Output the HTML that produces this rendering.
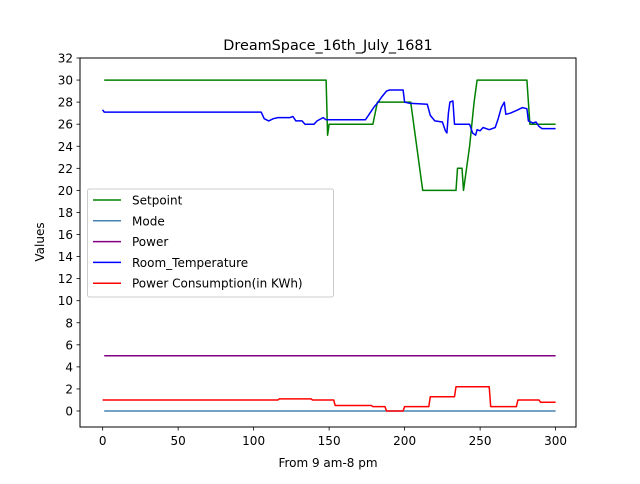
<!DOCTYPE html>
<html><head><meta charset="utf-8"><style>
body{margin:0;background:#fff;font-family:"DejaVu Sans","Liberation Sans",sans-serif}
svg text{font-family:"DejaVu Sans","Liberation Sans",sans-serif;fill:#000}
</style></head><body>
<svg id="chart" width="640" height="480" viewBox="0 0 640 480">
<rect width="640" height="480" fill="#fff"/>
<text x="328" y="50" font-size="14.4" text-anchor="middle">DreamSpace_16th_July_1681</text>
<g id="plot"></g>
<rect x="80" y="58" width="496" height="369" fill="none" stroke="#000" stroke-width="1"/>
<g id="yt"></g><g id="xt"></g>
<text x="328" y="467" font-size="12" text-anchor="middle">From 9 am-8 pm</text>
<text transform="translate(44,242) rotate(-90)" font-size="12" text-anchor="middle">Values</text>
<g id="legend"></g>
</svg>
<script>
const xTicks=[0,50,100,150,200,250,300];
const yTicks=[0,2,4,6,8,10,12,14,16,18,20,22,24,26,28,30,32];
const seriesNames=["Setpoint","Mode","Power","Room_Temperature","Power Consumption(in KWh)"];
const seriesColors=["#008000","#4682b4","#800080","#0000ff","#ff0000"];
// [x, value] pairs
const setpoint=[[1,30],[148,30],[149,25],[150,26],[179,26],[182,28],[204,28],[206,26],[212,20],[234,20],[235,22],[238,22],[239,20],[243,24],[246,28],[248,30],[281,30],[283,26],[300,26]];
const mode=[[1,0],[300,0]];
const power=[[1,5],[300,5]];
const roomTemp=[[0,27.3],[1,27.1],[105,27.1],[107,26.5],[110,26.3],[113,26.5],[116,26.6],[124,26.6],[126,26.7],[128,26.3],[132,26.3],[134,26.0],[137,26.0],[140,26.0],[142,26.3],[146,26.6],[148,26.4],[174,26.4],[177,27.0],[180,27.6],[182,27.9],[185,28.5],[188,29.0],[190,29.1],[199,29.1],[200,28.0],[203,27.9],[215,27.8],[217,26.8],[220,26.3],[225,26.2],[227,25.4],[228,25.2],[229,27.0],[230,28.0],[232,28.1],[233,26.0],[243,26.0],[245,25.2],[247,25.0],[248,25.5],[250,25.4],[252,25.7],[256,25.5],[260,25.7],[262,26.5],[264,27.5],[266,28.0],[267,26.9],[270,27.0],[275,27.3],[278,27.5],[281,27.4],[282,26.3],[285,26.1],[287,26.2],[289,25.8],[291,25.6],[300,25.6]];
const consumption=[[0,1.0],[116,1.0],[117,1.1],[138,1.1],[139,1.0],[153,1.0],[154,0.5],[178,0.5],[179,0.4],[187,0.4],[188,0.0],[199,0.0],[200,0.4],[216,0.4],[217,1.3],[233,1.3],[234,2.2],[256,2.2],[257,0.4],[274,0.4],[275,1.0],[289,1.0],[290,0.8],[300,0.8]];
const allSeries=[setpoint,mode,power,roomTemp,consumption];
const X0=80,X1=576,Y0=427,Y1=58,xmin=-15,xmax=313.5,ymin=-1.45,ymax=32;
const sx=v=>X0+(v-xmin)/(xmax-xmin)*(X1-X0);
const sy=v=>Y0-(v-ymin)/(ymax-ymin)*(Y0-Y1);
const NS="http://www.w3.org/2000/svg";
const mk=(t,a)=>{const e=document.createElementNS(NS,t);for(const k in a)e.setAttribute(k,a[k]);return e;};
const plot=document.getElementById('plot');
allSeries.forEach((s,i)=>{
  const p=mk('polyline',{points:s.map(d=>sx(d[0]).toFixed(1)+','+sy(d[1]).toFixed(1)).join(' '),fill:'none',stroke:seriesColors[i],'stroke-width':1.5,'stroke-linejoin':'round'});
  
  
  plot.appendChild(p);
});
const yt=document.getElementById('yt');
yTicks.forEach(v=>{
  const y=sy(v);
  const l=mk('line',{x1:76.5,x2:80,y1:y,y2:y,stroke:'#000','stroke-width':0.8});
  
  
  yt.appendChild(l);
  const t=mk('text',{x:73,y:y+4.5,'font-size':12,'text-anchor':'end'});t.textContent=v;
  
  
  yt.appendChild(t);
});
const xt=document.getElementById('xt');
xTicks.forEach(v=>{
  const x=sx(v);
  const l=mk('line',{x1:x,x2:x,y1:427,y2:430.5,stroke:'#000','stroke-width':0.8});
  
  
  xt.appendChild(l);
  const t=mk('text',{x:x,y:445,'font-size':12,'text-anchor':'middle'});t.textContent=v;
  
  
  xt.appendChild(t);
});
const lg=document.getElementById('legend');
const box=mk('rect',{x:87.5,y:189,width:246,height:108,rx:2,fill:'#fff','fill-opacity':0.8,stroke:'#ccc'});


lg.appendChild(box);
seriesNames.forEach((n,i)=>{
  const y=200+i*20.8;
  const l=mk('line',{x1:93,x2:121,y1:y,y2:y,stroke:seriesColors[i],'stroke-width':1.5});
  
  
  lg.appendChild(l);
  const t=mk('text',{x:132,y:y+4.5,'font-size':12});t.textContent=n;
  
  
  lg.appendChild(t);
});
</script>
</body></html>
